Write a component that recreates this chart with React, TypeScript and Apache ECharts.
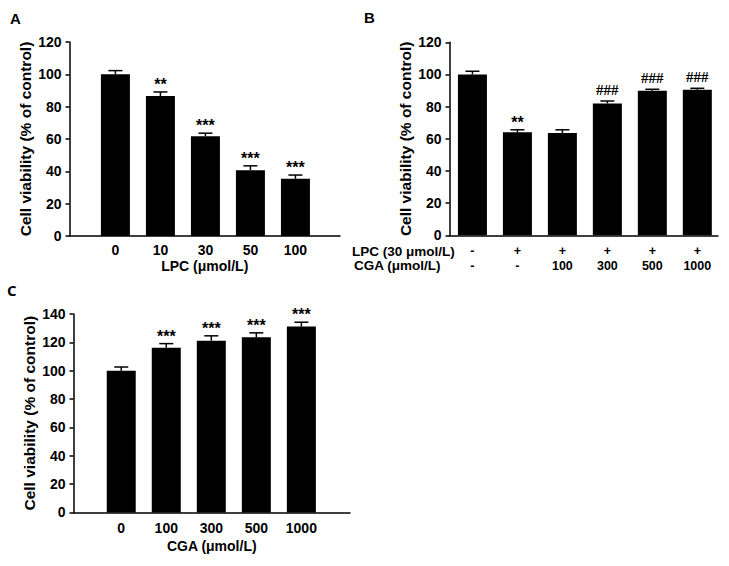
import React, { useEffect, useRef } from "react";
import * as echarts from "echarts";

const catsA = ["0", "10", "30", "50", "100"];
const valsA = [100, 86.6, 61.7, 40.7, 35.4];
const errA = [2.3, 2.5, 1.9, 2.7, 2.3];
const sigA = ["", "**", "***", "***", "***"];

const lpcB = ["-", "+", "+", "+", "+", "+"];
const cgaB = ["-", "-", "100", "300", "500", "1000"];
const valsB = [100, 64.0, 63.6, 82.0, 89.9, 90.5];
const errB = [2.0, 1.6, 2.0, 1.5, 0.9, 0.9];
const sigB = ["", "**", "", "###", "###", "###"];

const catsC = ["0", "100", "300", "500", "1000"];
const valsC = [100, 116.2, 121.2, 123.6, 131.1];
const errC = [2.6, 2.9, 3.4, 3.1, 3.1];
const sigC = ["", "***", "***", "***", "***"];

const yTitle = "Cell viability (% of control)";
const rowTitlesB = ["LPC (30 μmol/L)", "CGA (μmol/L)"];
const FONT = "'Liberation Sans', Arial, sans-serif";

function errSeries(xi: number, yi: number, vals: number[], errs: number[], sigs: string[]) {
  return {
    type: "custom",
    xAxisIndex: xi,
    yAxisIndex: yi,
    clip: false,
    silent: true,
    data: vals.map((v, i) => [i, v, errs[i]]),
    renderItem: (params: any, api: any) => {
      const i = api.value(0);
      const v = api.value(1);
      const e = api.value(2);
      const base = api.coord([i, v]);
      const top = api.coord([i, v + e]);
      const s = sigs[params.dataIndex];
      const hash = s.indexOf("#") >= 0;
      const children: any[] = [
        { type: "line", shape: { x1: base[0], y1: base[1], x2: top[0], y2: top[1] }, style: { stroke: "#000", lineWidth: 1.5 } },
        { type: "line", shape: { x1: top[0] - 7, y1: top[1], x2: top[0] + 7, y2: top[1] }, style: { stroke: "#000", lineWidth: 1.5 } },
      ];
      if (s) {
        children.push({
          type: "text",
          x: top[0],
          y: top[1] - (hash ? 11 : 7.5),
          style: {
            text: s,
            align: "center",
            verticalAlign: "middle",
            fill: "#000",
            font: hash ? "bold 15px 'Liberation Serif', serif" : "bold 16px " + FONT,
          },
        });
      }
      return { type: "group", children };
    },
  };
}

function barSeries(xi: number, yi: number, vals: number[]) {
  return {
    type: "bar",
    xAxisIndex: xi,
    yAxisIndex: yi,
    barWidth: 29,
    itemStyle: { color: "#000" },
    data: vals.map((v, i) => [i, v]),
  };
}

const axisLineStyle = { show: true, onZero: false, lineStyle: { color: "#000", width: 1.5 } };

function yAxis(idx: number, max: number, gap: number) {
  return {
    type: "value",
    gridIndex: idx,
    position: "left",
    min: 0,
    max,
    interval: 20,
    axisLine: axisLineStyle,
    axisTick: { show: true, length: 4, lineStyle: { color: "#000", width: 1.5 } },
    axisLabel: { color: "#000", fontWeight: "bold", fontSize: 14, fontFamily: FONT, margin: 8 },
    splitLine: { show: false },
    name: yTitle,
    nameLocation: "middle",
    nameGap: gap,
    nameTextStyle: { color: "#000", fontWeight: "bold", fontSize: 15.5, fontFamily: FONT },
  };
}

function xAxis(idx: number, min: number, max: number, labels: string[], name: string | undefined, margin: number, nameGap: number, showLine: boolean, fontSize = 14) {
  const vals: number[] = labels.map((_, i) => i);
  const ax: any = {
    type: "value",
    gridIndex: idx,
    position: "bottom",
    offset: 0,
    min,
    max,
    axisLine: showLine ? axisLineStyle : { show: false, onZero: false },
    axisTick: { show: false },
    splitLine: { show: false },
    axisLabel: {
      customValues: vals,
      formatter: (v: number) => labels[Math.round(v)] ?? "",
      color: "#000",
      fontWeight: "bold",
      fontSize,
      lineHeight: fontSize,
      fontFamily: FONT,
      margin,
    },
  };
  if (name) {
    ax.name = name;
    ax.nameLocation = "middle";
    ax.nameGap = nameGap;
    ax.nameTextStyle = { color: "#000", fontWeight: "bold", fontSize: 14, fontFamily: FONT };
  }
  return ax;
}

export default function App() {
  const ref = useRef<HTMLDivElement>(null);
  useEffect(() => {
    const chart = echarts.init(ref.current!, undefined, { renderer: "svg" });
    chart.setOption({
      animation: false,
      textStyle: { fontFamily: FONT },
      grid: [
        { left: 69.5, top: 42, width: 270.5, height: 194 },
        { left: 449.5, top: 42.3, width: 268.5, height: 193 },
        { left: 73.5, top: 314, width: 276.5, height: 198.4 },
      ],
      xAxis: [
        xAxis(0, -1.02, 4.99, catsA, "LPC (μmol/L)", 7, 23, true),
        xAxis(1, -0.51, 5.46, lpcB, undefined, 9, 0, true, 12.5),
        xAxis(1, -0.51, 5.46, cgaB, undefined, 24, 0, false, 12.5),
        xAxis(2, -1.06, 5.08, catsC, "CGA (μmol/L)", 9, 27, true),
      ],
      yAxis: [yAxis(0, 120, 36), yAxis(1, 120, 36), yAxis(2, 140, 36)],
      graphic: [
        { type: "text", left: 10, top: 11, style: { text: "A", font: "bold 15px " + FONT, fill: "#000" } },
        { type: "text", left: 364, top: 10, style: { text: "B", font: "bold 15px " + FONT, fill: "#000" } },
        { type: "text", left: 7, top: 282, style: { text: "C", font: "bold 15px 'Open Sans', sans-serif", fill: "#000" } },
        { type: "text", left: 352, top: 244.5, style: { text: rowTitlesB[0], font: "bold 13.5px " + FONT, lineHeight: 13, fill: "#000" } },
        { type: "text", left: 354, top: 258.5, style: { text: rowTitlesB[1], font: "bold 13.5px " + FONT, lineHeight: 13, fill: "#000" } },
      ],
      series: [
        barSeries(0, 0, valsA),
        errSeries(0, 0, valsA, errA, sigA),
        barSeries(1, 1, valsB),
        errSeries(1, 1, valsB, errB, sigB),
        barSeries(3, 2, valsC),
        errSeries(3, 2, valsC, errC, sigC),
      ],
    });
    return () => chart.dispose();
  }, []);
  return <div ref={ref} style={{ position: "fixed", left: 0, top: 0, width: 729, height: 566, background: "#fff" }} />;
}
